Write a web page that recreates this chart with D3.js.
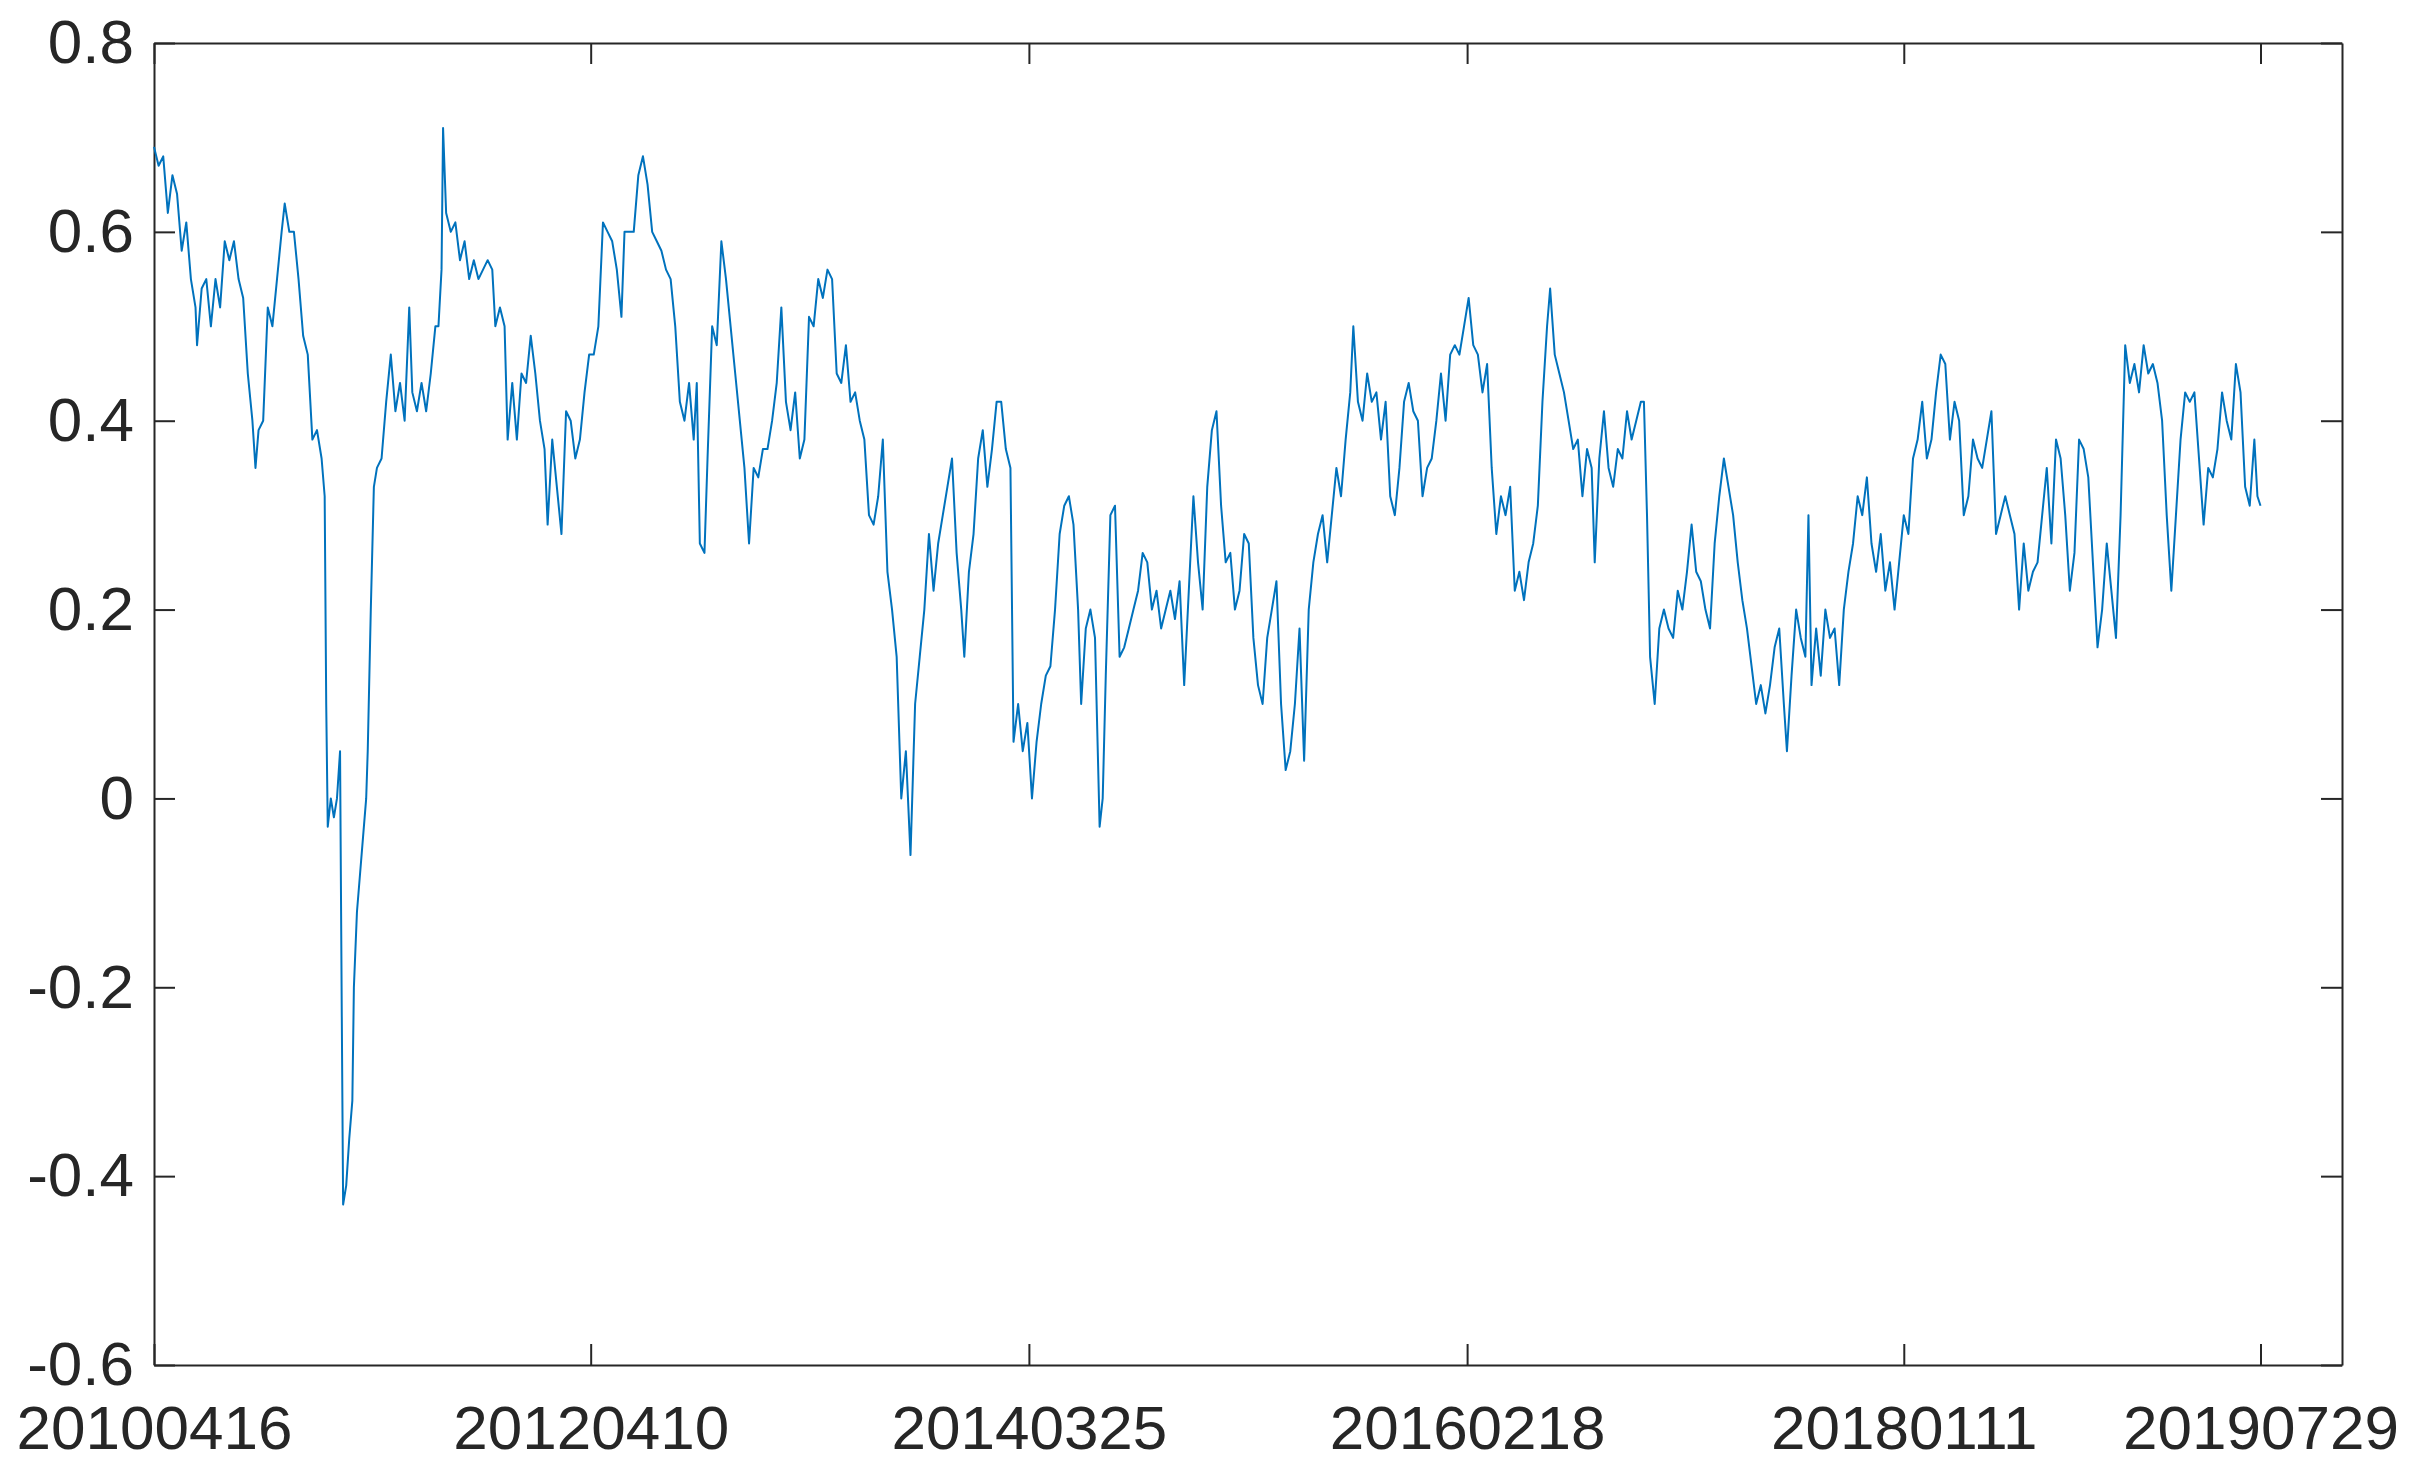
<!DOCTYPE html>
<html>
<head>
<meta charset="utf-8">
<script src="https://cdn.jsdelivr.net/npm/d3@7"></script>
<style>
  body { margin: 0; background: #fff; }
  text { font-family: "Liberation Sans", Arial, sans-serif; }
</style>
</head>
<body>
<svg id="chart" width="2411" height="1468"></svg>
<script>
// sample position along the time axis and the series value
const pos = [100,103,106,109,112,115,118,121,124,127,128,131,134,137,140,143,146,149,152,155,158,161,164,166,168,171,174,177,180,183,185,188,191,194,197,200,203,206,209,211,212,213,215,217,219,221,222,223,225,227,229,230,232,234,236,238,239,241,243,245,248,251,254,257,260,263,266,268,271,274,277,280,283,285,287,288,290,293,296,299,302,305,308,311,314,317,320,322,325,328,330,333,336,339,342,345,348,351,354,356,359,362,365,368,371,374,377,380,383,386,389,392,395,398,401,404,406,409,412,415,418,421,424,427,430,433,436,439,442,445,448,451,453,455,458,460,463,466,469,472,475,478,481,484,487,490,493,496,499,502,505,508,511,514,517,520,523,526,529,532,535,538,541,544,547,550,553,556,559,562,565,568,571,574,577,580,583,586,589,592,595,598,601,604,607,610,613,616,619,622,625,627,630,633,636,639,642,645,648,651,654,657,659,662,665,668,671,674,677,680,683,686,689,692,695,698,701,703,706,709,712,715,717,719,722,725,728,731,734,737,740,743,746,749,752,755,758,761,764,767,770,773,776,779,782,785,788,791,794,797,800,803,806,809,812,815,818,821,824,827,830,833,836,839,842,845,848,851,854,857,860,863,866,869,872,875,878,880,883,886,889,892,895,898,901,904,907,910,913,916,919,922,925,928,931,934,937,940,943,946,949,952,955,958,961,964,967,970,973,976,979,982,985,988,991,994,997,1000,1003,1006,1008,1011,1014,1017,1020,1023,1026,1029,1032,1035,1037,1040,1043,1046,1049,1052,1055,1058,1061,1064,1067,1069,1071,1073,1076,1079,1082,1085,1088,1091,1094,1097,1100,1103,1106,1109,1112,1115,1118,1121,1124,1127,1130,1133,1136,1139,1142,1145,1148,1151,1154,1157,1160,1162,1165,1168,1171,1174,1176,1178,1181,1184,1187,1190,1193,1196,1199,1202,1205,1208,1211,1214,1217,1220,1223,1226,1229,1232,1235,1238,1241,1244,1247,1250,1253,1256,1259,1262,1265,1268,1271,1274,1277,1280,1283,1286,1289,1292,1295,1298,1301,1304,1307,1310,1313,1316,1319,1322,1325,1328,1331,1334,1337,1340,1343,1346,1349,1352,1355,1358,1361,1364,1367,1370,1373,1376,1379,1382,1385,1388,1391,1394,1397,1400,1403,1406,1409,1412,1415,1418,1421,1424,1427,1430,1433,1436,1439,1442,1445,1448,1451,1454,1457,1460,1463,1466,1468,1470];
const values = [0.69,0.67,0.68,0.62,0.66,0.64,0.58,0.61,0.55,0.52,0.48,0.54,0.55,0.5,0.55,0.52,0.59,0.57,0.59,0.55,0.53,0.45,0.4,0.35,0.39,0.4,0.52,0.5,0.55,0.6,0.63,0.6,0.6,0.55,0.49,0.47,0.38,0.39,0.36,0.32,0.1,-0.03,0.0,-0.02,0.0,0.05,-0.2,-0.43,-0.41,-0.36,-0.32,-0.2,-0.12,-0.08,-0.04,0.0,0.05,0.2,0.33,0.35,0.36,0.42,0.47,0.41,0.44,0.4,0.52,0.43,0.41,0.44,0.41,0.45,0.5,0.5,0.56,0.71,0.62,0.6,0.61,0.57,0.59,0.55,0.57,0.55,0.56,0.57,0.56,0.5,0.52,0.5,0.38,0.44,0.38,0.45,0.44,0.49,0.45,0.4,0.37,0.29,0.38,0.33,0.28,0.41,0.4,0.36,0.38,0.43,0.47,0.47,0.5,0.61,0.6,0.59,0.56,0.51,0.6,0.6,0.6,0.66,0.68,0.65,0.6,0.59,0.58,0.56,0.55,0.5,0.42,0.4,0.44,0.38,0.44,0.27,0.26,0.36,0.5,0.48,0.59,0.55,0.5,0.45,0.4,0.35,0.27,0.35,0.34,0.37,0.37,0.4,0.44,0.52,0.42,0.39,0.43,0.36,0.38,0.51,0.5,0.55,0.53,0.56,0.55,0.45,0.44,0.48,0.42,0.43,0.4,0.38,0.3,0.29,0.32,0.38,0.24,0.2,0.15,0.0,0.05,-0.06,0.1,0.15,0.2,0.28,0.22,0.27,0.3,0.33,0.36,0.26,0.2,0.15,0.24,0.28,0.36,0.39,0.33,0.37,0.42,0.42,0.37,0.35,0.06,0.1,0.05,0.08,0.0,0.06,0.1,0.13,0.14,0.2,0.28,0.31,0.32,0.29,0.2,0.1,0.18,0.2,0.17,-0.03,0.0,0.13,0.3,0.31,0.15,0.16,0.18,0.2,0.22,0.26,0.25,0.2,0.22,0.18,0.2,0.22,0.19,0.23,0.12,0.22,0.32,0.25,0.2,0.33,0.39,0.41,0.31,0.25,0.26,0.2,0.22,0.28,0.27,0.17,0.12,0.1,0.17,0.2,0.23,0.1,0.03,0.05,0.1,0.18,0.04,0.2,0.25,0.28,0.3,0.25,0.3,0.35,0.32,0.38,0.43,0.5,0.42,0.4,0.45,0.42,0.43,0.38,0.42,0.32,0.3,0.35,0.42,0.44,0.41,0.4,0.32,0.35,0.36,0.4,0.45,0.4,0.47,0.48,0.47,0.5,0.53,0.48,0.47,0.43,0.46,0.35,0.28,0.32,0.3,0.33,0.22,0.24,0.21,0.25,0.27,0.31,0.42,0.5,0.54,0.47,0.45,0.43,0.4,0.37,0.38,0.32,0.37,0.35,0.25,0.36,0.41,0.35,0.33,0.37,0.36,0.41,0.38,0.4,0.42,0.42,0.3,0.15,0.1,0.18,0.2,0.18,0.17,0.22,0.2,0.24,0.29,0.24,0.23,0.2,0.18,0.27,0.32,0.36,0.33,0.3,0.25,0.21,0.18,0.14,0.1,0.12,0.09,0.12,0.16,0.18,0.1,0.05,0.13,0.2,0.17,0.15,0.3,0.12,0.18,0.13,0.2,0.17,0.18,0.12,0.2,0.24,0.27,0.32,0.3,0.34,0.27,0.24,0.28,0.22,0.25,0.2,0.25,0.3,0.28,0.36,0.38,0.42,0.36,0.38,0.43,0.47,0.46,0.38,0.42,0.4,0.3,0.32,0.38,0.36,0.35,0.38,0.41,0.28,0.3,0.32,0.3,0.28,0.2,0.27,0.22,0.24,0.25,0.3,0.35,0.27,0.38,0.36,0.3,0.22,0.26,0.38,0.37,0.34,0.25,0.16,0.2,0.27,0.22,0.17,0.3,0.48,0.44,0.46,0.43,0.48,0.45,0.46,0.44,0.4,0.3,0.22,0.3,0.38,0.43,0.42,0.43,0.36,0.29,0.35,0.34,0.37,0.43,0.4,0.38,0.46,0.43,0.33,0.31,0.38,0.32,0.31];
const tickPos = [100,384,669,954,1238,1470];
const tickLabels = ["20100416","20120410","20140325","20160218","20180111","20190729"];
const yTicks = [-0.6,-0.4,-0.2,0,0.2,0.4,0.6,0.8];

const margin = { top: 43, right: 69, bottom: 103, left: 154 };
const width = 2411, height = 1468;
const svg = d3.select("#chart");

const x = d3.scaleLinear().domain([100, 1523]).range([margin.left, width - margin.right]);
const y = d3.scaleLinear().domain([-0.6, 0.8]).range([height - margin.bottom, margin.top]);

const fmt = d => d === 0 ? "0" : d3.format(".1f")(d).replace("\u2212", "-");
const axisColor = "#262626";

// bottom and left axes, ticks pointing inward
svg.append("g")
  .attr("transform", `translate(0,${height - margin.bottom})`)
  .call(d3.axisBottom(x).tickValues(tickPos).tickFormat((d, i) => tickLabels[i]).tickSizeInner(-21).tickSizeOuter(0).tickPadding(40));
svg.append("g")
  .attr("transform", `translate(${margin.left},0)`)
  .call(d3.axisLeft(y).tickValues(yTicks).tickFormat(fmt).tickSizeInner(-21).tickSizeOuter(0).tickPadding(20));
// top and right mirror ticks
svg.append("g")
  .attr("transform", `translate(0,${margin.top})`)
  .call(d3.axisTop(x).tickValues(tickPos).tickFormat("").tickSizeInner(-21).tickSizeOuter(0));
svg.append("g")
  .attr("transform", `translate(${width - margin.right},0)`)
  .call(d3.axisRight(y).tickValues(yTicks).tickFormat("").tickSizeInner(-21).tickSizeOuter(0));

svg.selectAll(".domain").attr("stroke", axisColor).attr("stroke-width", 2);
svg.selectAll(".tick line").attr("stroke", axisColor).attr("stroke-width", 2);
svg.selectAll(".tick text").attr("fill", axisColor).style("font-size", "62px");

const line = d3.line().x((d, i) => x(pos[i])).y(d => y(d));
svg.append("path")
  .datum(values)
  .attr("fill", "none")
  .attr("stroke", "#0072BD")
  .attr("stroke-width", 2)
  .attr("stroke-linejoin", "round")
  .attr("d", line);
</script>
</body>
</html>
